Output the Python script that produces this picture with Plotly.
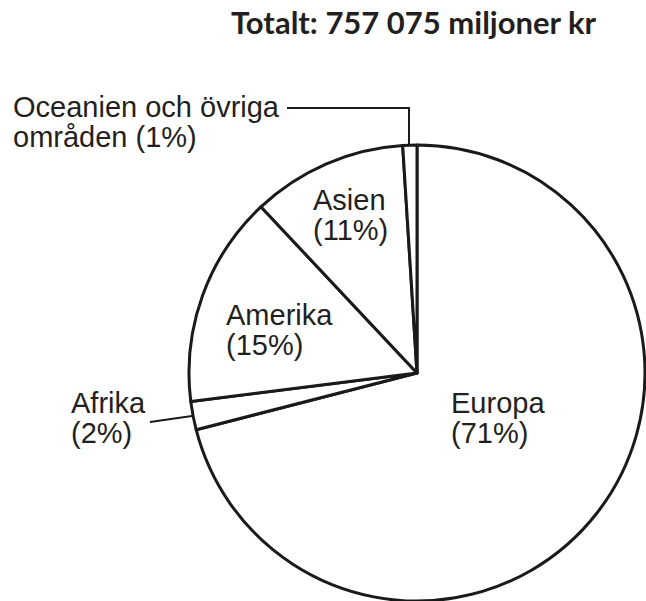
import plotly.graph_objects as go

W, H = 646, 601

regions = ["Europa", "Afrika", "Amerika", "Asien", "Oceanien och övriga områden"]
shares = [71, 2, 15, 11, 1]
title_text = "Totalt: 757 075 miljoner kr"

# label lines: (text lines, left x px, first baseline px)
label_lines = {
    "Europa": (["Europa", "(71%)"], 450, 413),
    "Afrika": (["Afrika", "(2%)"], 70, 413),
    "Amerika": (["Amerika", "(15%)"], 225, 325),
    "Asien": (["Asien", "(11%)"], 312, 210),
    "Oceanien och övriga områden": (["Oceanien och övriga", "områden (1%)"], 12, 117),
}

cx, cy, r = 417, 373, 228

fig = go.Figure(go.Pie(
    labels=regions,
    values=shares,
    sort=False,
    direction="clockwise",
    rotation=0,
    textinfo="none",
    hoverinfo="skip",
    marker=dict(colors=["white"] * len(regions), line=dict(color="#1a1a1a", width=3)),
    domain=dict(x=[(cx - r) / W, (cx + r) / W], y=[1 - (cy + r) / H, 1 - (cy - r) / H]),
    showlegend=False,
))

FS = 29
LINE = 30
annotations = []
for reg in regions:
    lines, x0, b0 = label_lines[reg]
    for i, t in enumerate(lines):
        base = b0 + i * LINE
        mid = base - 10
        annotations.append(dict(
            text=t, x=x0 / W, y=1 - mid / H, xref="paper", yref="paper",
            xanchor="left", yanchor="middle", showarrow=False,
            font=dict(family="Liberation Sans, Arial, sans-serif", size=FS, color="#231f20"),
            borderpad=0,
        ))

annotations.append(dict(
    text="<b>" + title_text + "</b>", x=414 / W, y=1 - 22 / H, xref="paper", yref="paper",
    xanchor="center", yanchor="middle", showarrow=False,
    font=dict(family="Lato, sans-serif", size=31, color="#231f20"),
    borderpad=0,
))

def px(x, y):
    return x / W, 1 - y / H

shapes = []
# Oceanien leader
x1, y1 = px(287, 108)
x2, y2 = px(409, 108)
x3, y3 = px(409, 146)
shapes.append(dict(type="path", xref="paper", yref="paper",
                   path=f"M {x1} {y1} L {x2} {y2} L {x3} {y3}",
                   line=dict(color="#1a1a1a", width=2)))
# Afrika leader
a1, b1 = px(150, 422)
a2, b2 = px(192, 416)
shapes.append(dict(type="line", xref="paper", yref="paper", x0=a1, y0=b1, x1=a2, y1=b2,
                   line=dict(color="#1a1a1a", width=2)))

fig.update_layout(
    width=W, height=H,
    margin=dict(l=0, r=0, t=0, b=0),
    paper_bgcolor="white", plot_bgcolor="white",
    annotations=annotations, shapes=shapes,
)

fig.write_html("out.html", config={"displayModeBar": False, "staticPlot": True},
               post_script="document.body.style.margin='0px';document.body.style.overflow='hidden';")
